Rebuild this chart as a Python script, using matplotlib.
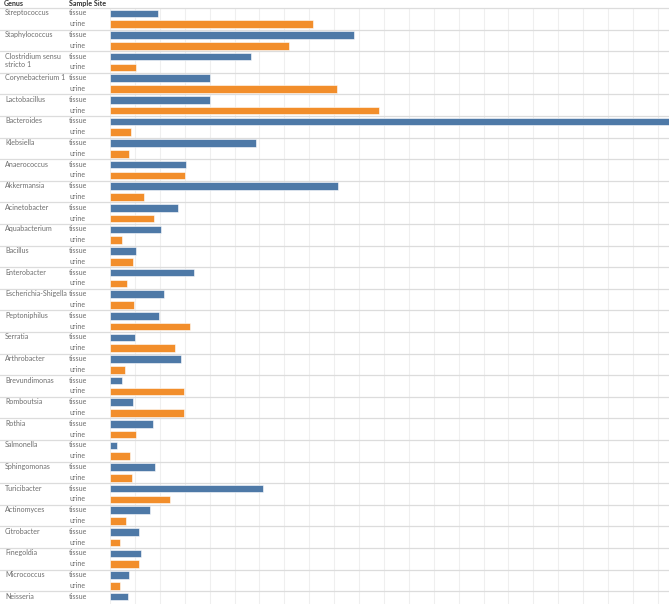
import matplotlib
matplotlib.use('Agg')
import matplotlib.pyplot as plt
from matplotlib.transforms import blended_transform_factory
import numpy as np

plt.rcParams['font.family'] = ['Lato', 'DejaVu Sans']

# one entry per genus, top to bottom; the chart is cut off after Neisseria tissue
genera = ["Streptococcus", "Staphylococcus", "Clostridium sensu\nstricto 1",
          "Corynebacterium 1", "Lactobacillus", "Bacteroides", "Klebsiella",
          "Anaerococcus", "Akkermansia", "Acinetobacter", "Aquabacterium",
          "Bacillus", "Enterobacter", "Escherichia-Shigella", "Peptoniphilus",
          "Serratia", "Arthrobacter", "Brevundimonas", "Romboutsia", "Rothia",
          "Salmonella", "Sphingomonas", "Turicibacter", "Actinomyces",
          "Citrobacter", "Finegoldia", "Micrococcus", "Neisseria"]
sites = ["tissue", "urine"]

tissue = [1.93, 9.80, 5.65, 4.02, 4.02, 22.6, 5.88, 3.07, 9.14, 2.73, 2.03,
          1.03, 3.36, 2.18, 1.97, 1.02, 2.84, 0.50, 0.92, 1.71, 0.27, 1.82,
          6.16, 1.62, 1.15, 1.24, 0.78, 0.74]
urine = [8.14, 7.20, 1.06, 9.12, 10.82, 0.83, 0.76, 3.01, 1.35, 1.77, 0.50,
         0.92, 0.67, 0.96, 3.20, 2.62, 0.60, 2.96, 2.96, 1.06, 0.80, 0.88,
         2.42, 0.63, 0.39, 1.16, 0.41, np.nan]

site_colors = {"tissue": "#4e79a7", "urine": "#f28e2b"}

W, H = 669, 604
fig = plt.figure(figsize=(W / 100, H / 100), dpi=100)
fig.patch.set_facecolor('white')

top_px = 8.0
left_px = 110.0
ax = fig.add_axes([left_px / W, 0, (W - left_px) / W, (H - top_px) / H])
row_px = 10.8
n_rows_visible = (H - top_px) / row_px
unit_px = 24.9
xmax = (W - left_px) / unit_px

for s, vals in zip(sites, [tissue, urine]):
  ys = [2 * g + sites.index(s) + 0.5 for g in range(len(genera))]
  ax.barh(ys, vals, height=0.72, color=site_colors[s],
          edgecolor='white', linewidth=0.4, zorder=3)

ax.set_xlim(0, xmax)
ax.set_ylim(n_rows_visible, 0)
ax.set_xticks(np.arange(0, int(xmax) + 1))
ax.grid(True, axis='x', color='#efefef', lw=0.8, zorder=0)
ax.set_axisbelow(True)
ax.tick_params(left=False, bottom=False, labelleft=False, labelbottom=False)
for sp in ax.spines.values():
  sp.set_visible(False)

trans = blended_transform_factory(fig.transFigure, ax.transData)
label_color = '#6e6e6e'
fs = 5.1

# genus separators run across the whole figure
for g in range(len(genera) + 1):
  ax.plot([0, 1], [2 * g, 2 * g], transform=trans, color='#dcdcdc',
          lw=0.9, clip_on=False, zorder=4)

for g, name in enumerate(genera):
  for k, line in enumerate(name.split('\n')):
    ax.text(5 / W, 2 * g + 0.45 + k * 0.8, line, transform=trans,
            ha='left', va='center', fontsize=fs, color=label_color)
  for j, s in enumerate(sites):
    if 2 * g + j + 0.9 > n_rows_visible:
      continue
    ax.text(69 / W, 2 * g + j + 0.45, s, transform=trans,
            ha='left', va='center', fontsize=fs, color=label_color)

# header row
fig.text(4 / W, 1 - 3.5 / H, "Genus", ha='left', va='center',
         fontsize=fs, color='#333333', fontweight='bold')
fig.text(69 / W, 1 - 3.5 / H, "Sample Site", ha='left', va='center',
         fontsize=fs, color='#333333', fontweight='bold')

fig.savefig('out.png', dpi=100)
